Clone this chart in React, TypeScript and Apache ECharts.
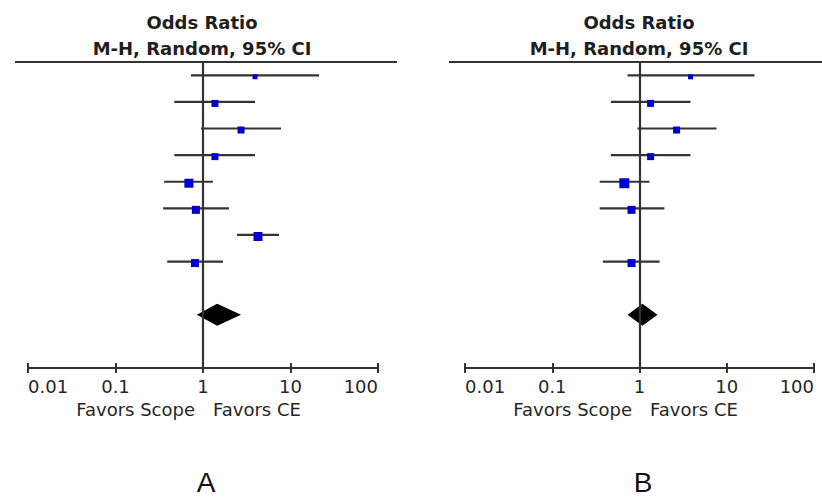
import React, { useEffect, useRef } from "react";
import * as echarts from "echarts";

// Tick labels of the log odds-ratio axis
const tickValues = [0.01, 0.1, 1, 10, 100];
const tickLabels = ["0.01", "0.1", "1", "10", "100"];

// Panel A studies (rows from top)
const rowsA = [1, 2, 3, 4, 5, 6, 7, 8];
const lowerA = [0.73, 0.47, 0.95, 0.47, 0.36, 0.35, 2.45, 0.39];
const upperA = [21.2, 3.93, 7.8, 3.93, 1.3, 1.98, 7.39, 1.69];
const oddsA = [3.93, 1.37, 2.72, 1.37, 0.69, 0.83, 4.25, 0.81];
const weightA = [5, 7, 7, 7, 9, 8, 9, 8];
const pooledA = [0.85, 2.72, 1.45]; // lower, upper, estimate

// Panel B studies (row 7 empty)
const rowsB = [1, 2, 3, 4, 5, 6, 8];
const lowerB = [0.73, 0.47, 0.95, 0.47, 0.35, 0.35, 0.38];
const upperB = [20.8, 3.84, 7.63, 3.84, 1.3, 1.93, 1.7];
const oddsB = [3.84, 1.34, 2.66, 1.34, 0.67, 0.81, 0.81];
const weightB = [5, 7, 7, 7, 10, 8, 8];
const pooledB = [0.73, 1.61, 1.08];
const pooledRow = 10;

const FONT = "DejaVu Sans";
const LINE = "#333";
const TEXT = "#262626";

function studyRender(params: any, api: any) {
  const lo = api.coord([api.value(0), api.value(3)]);
  const hi = api.coord([api.value(1), api.value(3)]);
  const pt = api.coord([api.value(2), api.value(3)]);
  const sz = api.value(4);
  return {
    type: "group",
    children: [
      {
        type: "line",
        shape: { x1: lo[0], y1: lo[1], x2: hi[0], y2: hi[1] },
        style: { stroke: LINE, lineWidth: 2.2 },
      },
      {
        type: "rect",
        shape: { x: pt[0] - sz / 2, y: pt[1] - sz / 2 + 1.5, width: sz, height: sz },
        style: { fill: "#0000d4" },
      },
    ],
  };
}

function diamondRender(params: any, api: any) {
  const lo = api.coord([api.value(0), api.value(3)]);
  const hi = api.coord([api.value(1), api.value(3)]);
  const c = api.coord([api.value(2), api.value(3)]);
  const h = 11;
  return {
    type: "polygon",
    shape: {
      points: [
        [lo[0], lo[1]],
        [c[0], c[1] - h],
        [hi[0], hi[1]],
        [c[0], c[1] + h],
      ],
    },
    style: { fill: "#000" },
  };
}

function labelFmt(v: number) {
  const i = Math.round(Math.log10(v)) + 2;
  return tickLabels[i] ?? String(v);
}

function mainAxis(gridIndex: number) {
  return {
    type: "log",
    logBase: 10,
    gridIndex,
    position: "bottom",
    min: tickValues[0],
    max: tickValues[tickValues.length - 1],
    splitNumber: 4,
    axisLine: { show: true, lineStyle: { color: LINE, width: 2.2 } },
    axisTick: { show: true, inside: false, length: 5, lineStyle: { color: LINE, width: 2 } },
    minorTick: { show: false },
    splitLine: { show: false },
    axisLabel: {
      show: true,
      margin: 9,
      formatter: labelFmt,
      fontFamily: FONT,
      fontSize: 18,
      color: TEXT,
      showMinLabel: true,
      showMaxLabel: true,
      alignMinLabel: "left",
      alignMaxLabel: "right",
    },
  };
}

function innerAxis(gridIndex: number) {
  return {
    type: "log",
    logBase: 10,
    gridIndex,
    position: "bottom",
    min: tickValues[0],
    max: tickValues[tickValues.length - 1],
    splitNumber: 4,
    axisLine: { show: false },
    axisTick: { show: true, inside: true, length: 5, lineStyle: { color: LINE, width: 2 } },
    splitLine: { show: false },
    axisLabel: { show: false },
  };
}

function yAxis(gridIndex: number) {
  return { type: "value", gridIndex, min: 0.5, max: 12, inverse: true, show: false };
}

function panelGraphics(cx: number, lineX1: number, lineX2: number, oneX: number, letter: string) {
  return [
    {
      type: "text",
      x: cx,
      y: 22,
      style: { text: "Odds Ratio", font: `bold 18px "${FONT}"`, fill: "#1e1e1e", align: "center", verticalAlign: "middle" },
    },
    {
      type: "text",
      x: cx,
      y: 48,
      style: { text: "M-H, Random, 95% CI", font: `bold 18px "${FONT}"`, fill: "#1e1e1e", align: "center", verticalAlign: "middle" },
    },
    {
      type: "line",
      shape: { x1: lineX1, y1: 62, x2: lineX2, y2: 62 },
      style: { stroke: LINE, lineWidth: 2.2 },
    },
    {
      type: "text",
      x: oneX - 8,
      y: 409,
      style: { text: "Favors Scope", font: `18px "${FONT}"`, fill: TEXT, align: "right", verticalAlign: "middle" },
    },
    {
      type: "text",
      x: oneX + 10,
      y: 409,
      style: { text: "Favors CE", font: `18px "${FONT}"`, fill: TEXT, align: "left", verticalAlign: "middle" },
    },
    {
      type: "text",
      x: oneX + 3,
      y: 496,
      style: { text: letter, font: `28px "Liberation Sans"`, fill: "#111", align: "center", verticalAlign: "bottom" },
    },
  ];
}

export default function App() {
  const ref = useRef<HTMLDivElement>(null);
  useEffect(() => {
    if (!ref.current) return;
    const chart = echarts.init(ref.current, undefined, { renderer: "svg" });

    const studiesA = rowsA.map((r, i) => [lowerA[i], upperA[i], oddsA[i], r, weightA[i]]);
    const studiesB = rowsB.map((r, i) => [lowerB[i], upperB[i], oddsB[i], r, weightB[i]]);

    const refLine = {
      silent: true,
      symbol: "none",
      label: { show: false },
      lineStyle: { color: LINE, width: 2.2, type: "solid" },
      data: [{ xAxis: 1 }],
    };

    chart.setOption({
      animation: false,
      backgroundColor: "#fff",
      grid: [
        { left: 28, top: 62, width: 350, height: 306 },
        { left: 465, top: 62, width: 349, height: 306 },
      ],
      xAxis: [mainAxis(0), innerAxis(0), mainAxis(1), innerAxis(1)],
      yAxis: [yAxis(0), yAxis(1)],
      series: [
        {
          type: "custom",
          xAxisIndex: 0,
          yAxisIndex: 0,
          renderItem: studyRender,
          encode: { x: [0, 1, 2], y: 3 },
          data: studiesA,
          markLine: refLine,
          z: 3,
        },
        {
          type: "custom",
          xAxisIndex: 0,
          yAxisIndex: 0,
          renderItem: diamondRender,
          encode: { x: [0, 1, 2], y: 3 },
          data: [[pooledA[0], pooledA[1], pooledA[2], pooledRow]],
          z: 4,
        },
        {
          type: "custom",
          xAxisIndex: 2,
          yAxisIndex: 1,
          renderItem: studyRender,
          encode: { x: [0, 1, 2], y: 3 },
          data: studiesB,
          markLine: refLine,
          z: 3,
        },
        {
          type: "custom",
          xAxisIndex: 2,
          yAxisIndex: 1,
          renderItem: diamondRender,
          encode: { x: [0, 1, 2], y: 3 },
          data: [[pooledB[0], pooledB[1], pooledB[2], pooledRow]],
          z: 4,
        },
      ],
      graphic: [
        ...panelGraphics(202, 15, 397, 203, "A"),
        ...panelGraphics(639, 449, 822, 640, "B"),
      ],
    });
    return () => chart.dispose();
  }, []);

  return (
    <div
      ref={ref}
      style={{ position: "absolute", left: 0, top: 0, width: 822, height: 497, background: "#fff" }}
    />
  );
}
